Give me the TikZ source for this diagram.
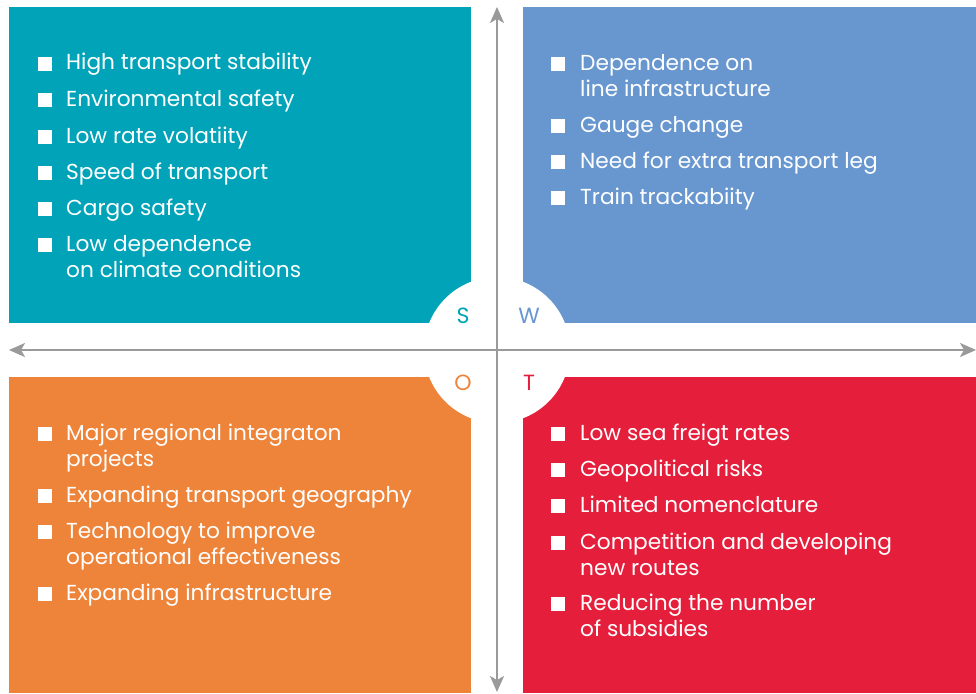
\documentclass[tikz,border=0pt]{standalone}
\usepackage{fontspec}
\setmainfont{Poppins}
\usetikzlibrary{arrows.meta}
\definecolor{swotS}{HTML}{00A3B8}
\definecolor{swotW}{HTML}{6897D0}
\definecolor{swotO}{HTML}{ED843A}
\definecolor{swotT}{HTML}{E41E3B}
\definecolor{axisgray}{HTML}{9A9A9A}
\begin{document}
\begin{tikzpicture}[x=1pt,y=-1pt,
  % anchored at the baseline of the last line of each item
  itemtext/.style={anchor=base west, inner sep=0pt, text=white, align=left,
    font=\fontsize{21.7}{26}\selectfont},
  bul/.style={fill=white, minimum size=14pt, inner sep=0pt, anchor=south west},
  letter/.style={font=\fontsize{22}{22}\selectfont, inner sep=0pt},
  axis/.style={draw=axisgray, line width=2pt,
    {Stealth[length=16pt,width=14pt,inset=4pt]}-{Stealth[length=16pt,width=14pt,inset=4pt]}}]
\useasboundingbox (0,0) rectangle (976,693);

% quadrants
\fill[swotS] (9,7) rectangle (471,323);
\fill[swotW] (523,7) rectangle (976,323);
\fill[swotO] (9,377) rectangle (471,693);
\fill[swotT] (523,377) rectangle (976,693);
\fill[white] (497,350) circle[radius=73];

% axes
\coordinate (west) at (9,350);
\coordinate (east) at (976,350);
\coordinate (north) at (497,7);
\coordinate (south) at (497,692);
\draw[axis] (west) -- (east);
\draw[axis] (south) -- (north);

% quadrant letters
\node[letter, text=swotS] (ls) at (463,316) {S};
\node[letter, text=swotW] (lw) at (529,316) {W};
\node[letter, text=swotO] (lo) at (463,383) {O};
\node[letter, text=swotT] (lt) at (529,383) {T};

% strengths
\node[bul] (sb1) at (38,71) {};  \node[itemtext] (s1) at (66,70) {High transport stability};
\node[bul] (sb2) at (38,107) {}; \node[itemtext] (s2) at (66,106) {Environmental safety};
\node[bul] (sb3) at (38,144) {}; \node[itemtext] (s3) at (66,143) {Low rate volatiity};
\node[bul] (sb4) at (38,180) {}; \node[itemtext] (s4) at (66,179) {Speed of transport};
\node[bul] (sb5) at (38,216) {}; \node[itemtext] (s5) at (66,215) {Cargo safety};
\node[bul] (sb6) at (38,252) {}; \node[itemtext] (s6) at (66,277) {Low dependence\\on climate conditions};

% weaknesses
\node[bul] (wb1) at (551,71) {};  \node[itemtext] (w1) at (580,96) {Dependence on\\line infrastructure};
\node[bul] (wb2) at (551,133) {}; \node[itemtext] (w2) at (580,132) {Gauge change};
\node[bul] (wb3) at (551,169) {}; \node[itemtext] (w3) at (580,168) {Need for extra transport leg};
\node[bul] (wb4) at (551,205) {}; \node[itemtext] (w4) at (580,204) {Train trackabiity};

% opportunities
\node[bul] (ob1) at (38,441) {}; \node[itemtext] (o1) at (66,466) {Major regional integraton\\projects};
\node[bul] (ob2) at (38,503) {}; \node[itemtext] (o2) at (66,502) {Expanding transport geography};
\node[bul] (ob3) at (38,539) {}; \node[itemtext] (o3) at (66,564) {Technology to improve\\operational effectiveness};
\node[bul] (ob4) at (38,601) {}; \node[itemtext] (o4) at (66,600) {Expanding infrastructure};

% threats
\node[bul] (tb1) at (551,441) {}; \node[itemtext] (t1) at (580,440) {Low sea freigt rates};
\node[bul] (tb2) at (551,477) {}; \node[itemtext] (t2) at (580,476) {Geopolitical risks};
\node[bul] (tb3) at (551,513) {}; \node[itemtext] (t3) at (580,512) {Limited nomenclature};
\node[bul] (tb4) at (551,550) {}; \node[itemtext] (t4) at (580,575) {Competition and developing\\new routes};
\node[bul] (tb5) at (551,611) {}; \node[itemtext] (t5) at (580,636) {Reducing the number\\of subsidies};
\end{tikzpicture}
\end{document}
